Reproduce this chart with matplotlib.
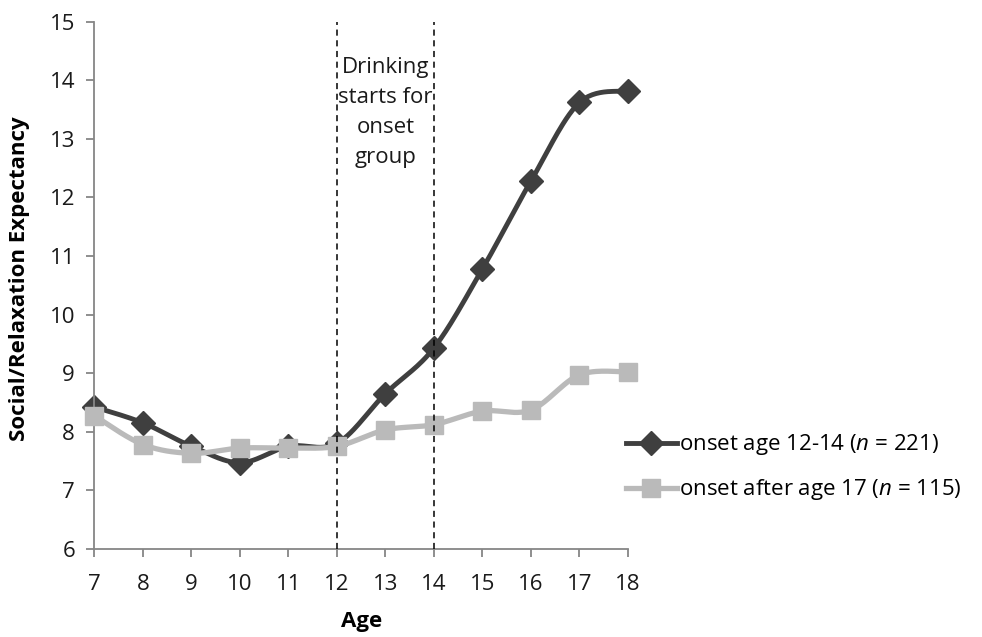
import numpy as np
import matplotlib
matplotlib.use("Agg")
import matplotlib.pyplot as plt
from matplotlib.lines import Line2D

plt.rcParams['font.family'] = ['Open Sans', 'DejaVu Sans']
plt.rcParams['mathtext.fontset'] = 'custom'
plt.rcParams['mathtext.it'] = 'Open Sans:italic'
plt.rcParams['mathtext.rm'] = 'Open Sans'

ages = [7, 8, 9, 10, 11, 12, 13, 14, 15, 16, 17, 18]
onset_12_14 = [8.42, 8.15, 7.75, 7.47, 7.75, 7.80, 8.65, 9.43, 10.78, 12.28, 13.62, 13.82]
onset_after_17 = [8.27, 7.78, 7.63, 7.72, 7.72, 7.75, 8.03, 8.12, 8.35, 8.37, 8.97, 9.02]
label_a = "onset age 12-14 ($\\mathit{n}$ = 221)"
label_b = "onset after age 17 ($\\mathit{n}$ = 115)"
y_ticks = [6, 7, 8, 9, 10, 11, 12, 13, 14, 15]
vlines = [12, 14]
annotation = "Drinking\nstarts for\nonset\ngroup"


def smooth(x, y, n=30):
    x = np.asarray(x, float); y = np.asarray(y, float)
    px = np.concatenate([[x[0]], x, [x[-1]]])
    py = np.concatenate([[y[0]], y, [y[-1]]])
    xs, ys = [], []
    t = np.linspace(0, 1, n)
    for i in range(1, len(px) - 2):
        p0 = np.array([px[i], py[i]]); p3 = np.array([px[i + 1], py[i + 1]])
        c1 = p0 + (np.array([px[i + 1], py[i + 1]]) - np.array([px[i - 1], py[i - 1]])) / 6
        c2 = p3 - (np.array([px[i + 2], py[i + 2]]) - np.array([px[i], py[i]])) / 6
        b = ((1 - t) ** 3)[:, None] * p0 + (3 * (1 - t) ** 2 * t)[:, None] * c1 + \
            (3 * (1 - t) * t ** 2)[:, None] * c2 + (t ** 3)[:, None] * p3
        xs.extend(b[:, 0]); ys.extend(b[:, 1])
    return np.array(xs), np.array(ys)


dark = '#3f3f3f'
light = '#bababa'
axis_c = '#868686'
fs = 16

fig = plt.figure(figsize=(9.82, 6.37), dpi=100)
ax = fig.add_axes([0.0962, 0.1385, 0.5433, 0.8275])

sx, sy = smooth(ages, onset_12_14)
ax.plot(sx, sy, color=dark, lw=3.5, zorder=2, solid_capstyle='round', clip_on=False)
ax.plot(ages, onset_12_14, ls='none', marker='D', ms=12.5, color=dark, zorder=2.5, clip_on=False)
sx, sy = smooth(ages, onset_after_17)
ax.plot(sx, sy, color=light, lw=3.8, zorder=3, solid_capstyle='round', clip_on=False)
ax.plot(ages, onset_after_17, ls='none', marker='s', ms=13, color=light, zorder=3.5, clip_on=False)

for v in vlines:
    ax.axvline(v, color='black', lw=1.1, ls=(0, (4, 3)), zorder=4)

ax.text(13, 13.45, annotation, ha='center', va='center', fontsize=fs,
        linespacing=1.55, color='#1a1a1a')

ax.set_xlim(7, 18)
ax.set_ylim(6, 15)
ax.set_xticks(ages)
ax.set_yticks(y_ticks)
for s in ['top', 'right']:
    ax.spines[s].set_visible(False)
for s in ['left', 'bottom']:
    ax.spines[s].set_color(axis_c)
    ax.spines[s].set_linewidth(1.3)
ax.tick_params(axis='both', colors=axis_c, labelcolor='#1a1a1a', labelsize=fs,
               length=6, width=1.3, direction='out')
ax.tick_params(axis='y', pad=8)
ax.tick_params(axis='x', pad=12)

ax.set_xlabel('Age', fontsize=fs, fontweight='bold', labelpad=12)
fig.text(0.02, 0.563, 'Social/Relaxation Expectancy', rotation=90, fontsize=fs,
         fontweight='bold', ha='center', va='center')

handles = [Line2D([], [], color=dark, lw=3.5, marker='D', ms=12.5),
           Line2D([], [], color=light, lw=3.8, marker='s', ms=13)]
leg = fig.legend(handles, [label_a, label_b], loc='upper left',
                 bbox_to_anchor=(0.628, 0.335), frameon=False, fontsize=fs,
                 handlelength=2.3, handletextpad=0.1, labelspacing=0.9,
                 borderaxespad=0)

fig.savefig('out.png', dpi=100)
